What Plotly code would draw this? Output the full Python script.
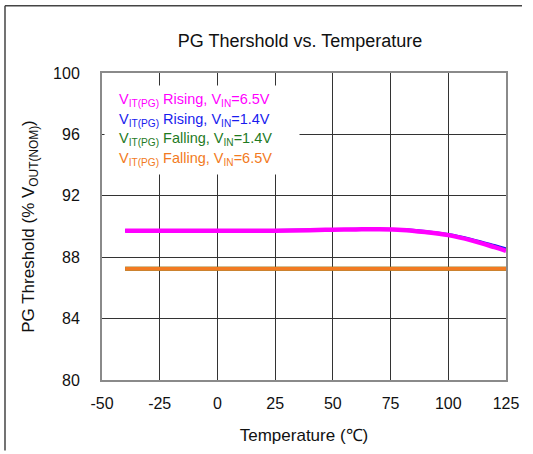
import plotly.graph_objects as go

temps = [-40, -25, 0, 25, 40, 50, 60, 70, 80, 90, 100, 110, 120, 125]
rising_65 = [89.72, 89.72, 89.72, 89.73, 89.76, 89.79, 89.81, 89.82, 89.78, 89.64, 89.44, 89.10, 88.65, 88.41]
rising_14 = [89.73, 89.73, 89.73, 89.74, 89.77, 89.80, 89.82, 89.83, 89.80, 89.67, 89.48, 89.16, 88.76, 88.55]
falling_14 = [87.25] * len(temps)
falling_65 = [87.25] * len(temps)

labels = [
    "V<sub>IT(PG)</sub> Rising, V<sub>IN</sub>=6.5V",
    "V<sub>IT(PG)</sub> Rising, V<sub>IN</sub>=1.4V",
    "V<sub>IT(PG)</sub> Falling, V<sub>IN</sub>=1.4V",
    "V<sub>IT(PG)</sub> Falling, V<sub>IN</sub>=6.5V",
]
colors = ["#FF00FF", "#1A1AEE", "#1F7A1F", "#F27A22"]

x_ticks = [-50, -25, 0, 25, 50, 75, 100, 125]
y_ticks = [80, 84, 88, 92, 96, 100]

FONT = "Liberation Sans, Arial, sans-serif"

fig = go.Figure()
fig.add_trace(go.Scatter(x=temps, y=falling_14, mode="lines", line=dict(color=colors[2], width=4), name=labels[2]))
fig.add_trace(go.Scatter(x=temps, y=falling_65, mode="lines", line=dict(color=colors[3], width=4), name=labels[3]))
fig.add_trace(go.Scatter(x=temps, y=rising_14, mode="lines", line=dict(color=colors[1], width=3, shape="spline"), name=labels[1]))
fig.add_trace(go.Scatter(x=temps, y=rising_65, mode="lines", line=dict(color=colors[0], width=4.5, shape="spline"), name=labels[0]))

# white legend box
fig.add_annotation(
    xref="paper", yref="paper", x=0.005, y=0.961, xanchor="left", yanchor="top",
    text=" ", showarrow=False, width=194, height=88, bgcolor="white", borderpad=0,
)
legend_y = [0.913, 0.848, 0.784, 0.719]
for t, c, yy in zip(labels, colors, legend_y):
    fig.add_annotation(
        xref="paper", yref="paper", x=0.038, y=yy, xanchor="left", yanchor="middle",
        text=t, showarrow=False, align="left",
        font=dict(family=FONT, size=14.5, color=c),
    )

# outer frame (top and left edges)
fig.add_shape(type="line", xref="paper", yref="paper", x0=-0.2401, y0=1.2194, x1=1.0396, y1=1.2194,
              line=dict(color="#444444", width=1.5))
fig.add_shape(type="line", xref="paper", yref="paper", x0=-0.2401, y0=1.2194, x1=-0.2401, y1=-0.23,
              line=dict(color="#444444", width=1.5))

tick_font = dict(family=FONT, size=16, color="#111111")
title_font = dict(family=FONT, size=17, color="#111111")
fig.update_layout(
    width=533, height=454,
    margin=dict(l=102, r=27, t=73, b=71),
    paper_bgcolor="white", plot_bgcolor="white",
    showlegend=False,
    title=dict(text="PG Thershold vs. Temperature", x=0.563, xanchor="center", y=0.91, yanchor="middle",
               font=dict(family=FONT, size=18, color="#111111")),
    font=dict(family=FONT, color="#111111"),
)
fig.update_xaxes(
    range=[-50, 125], tickvals=x_ticks, ticktext=[str(v) for v in x_ticks],
    showgrid=True, gridcolor="#333333", gridwidth=1,
    showline=True, linecolor="#8a8a8a", linewidth=2, mirror=True,
    ticks="", tickfont=tick_font, zeroline=False, ticklabelstandoff=8,
    title=dict(text="Temperature (℃)", font=title_font, standoff=18),
)
fig.update_yaxes(
    range=[80, 100], tickvals=y_ticks, ticktext=[str(v) for v in y_ticks],
    showgrid=True, gridcolor="#333333", gridwidth=1,
    showline=True, linecolor="#8a8a8a", linewidth=2, mirror=True,
    ticks="", tickfont=tick_font, zeroline=False, ticklabelstandoff=17,
    title=dict(text="PG Threshold (% V<sub>OUT(NOM)</sub>)", font=title_font, standoff=14),
)

fig.write_html("out.html", config={"displayModeBar": False},
               post_script="document.body.style.margin='0';")
